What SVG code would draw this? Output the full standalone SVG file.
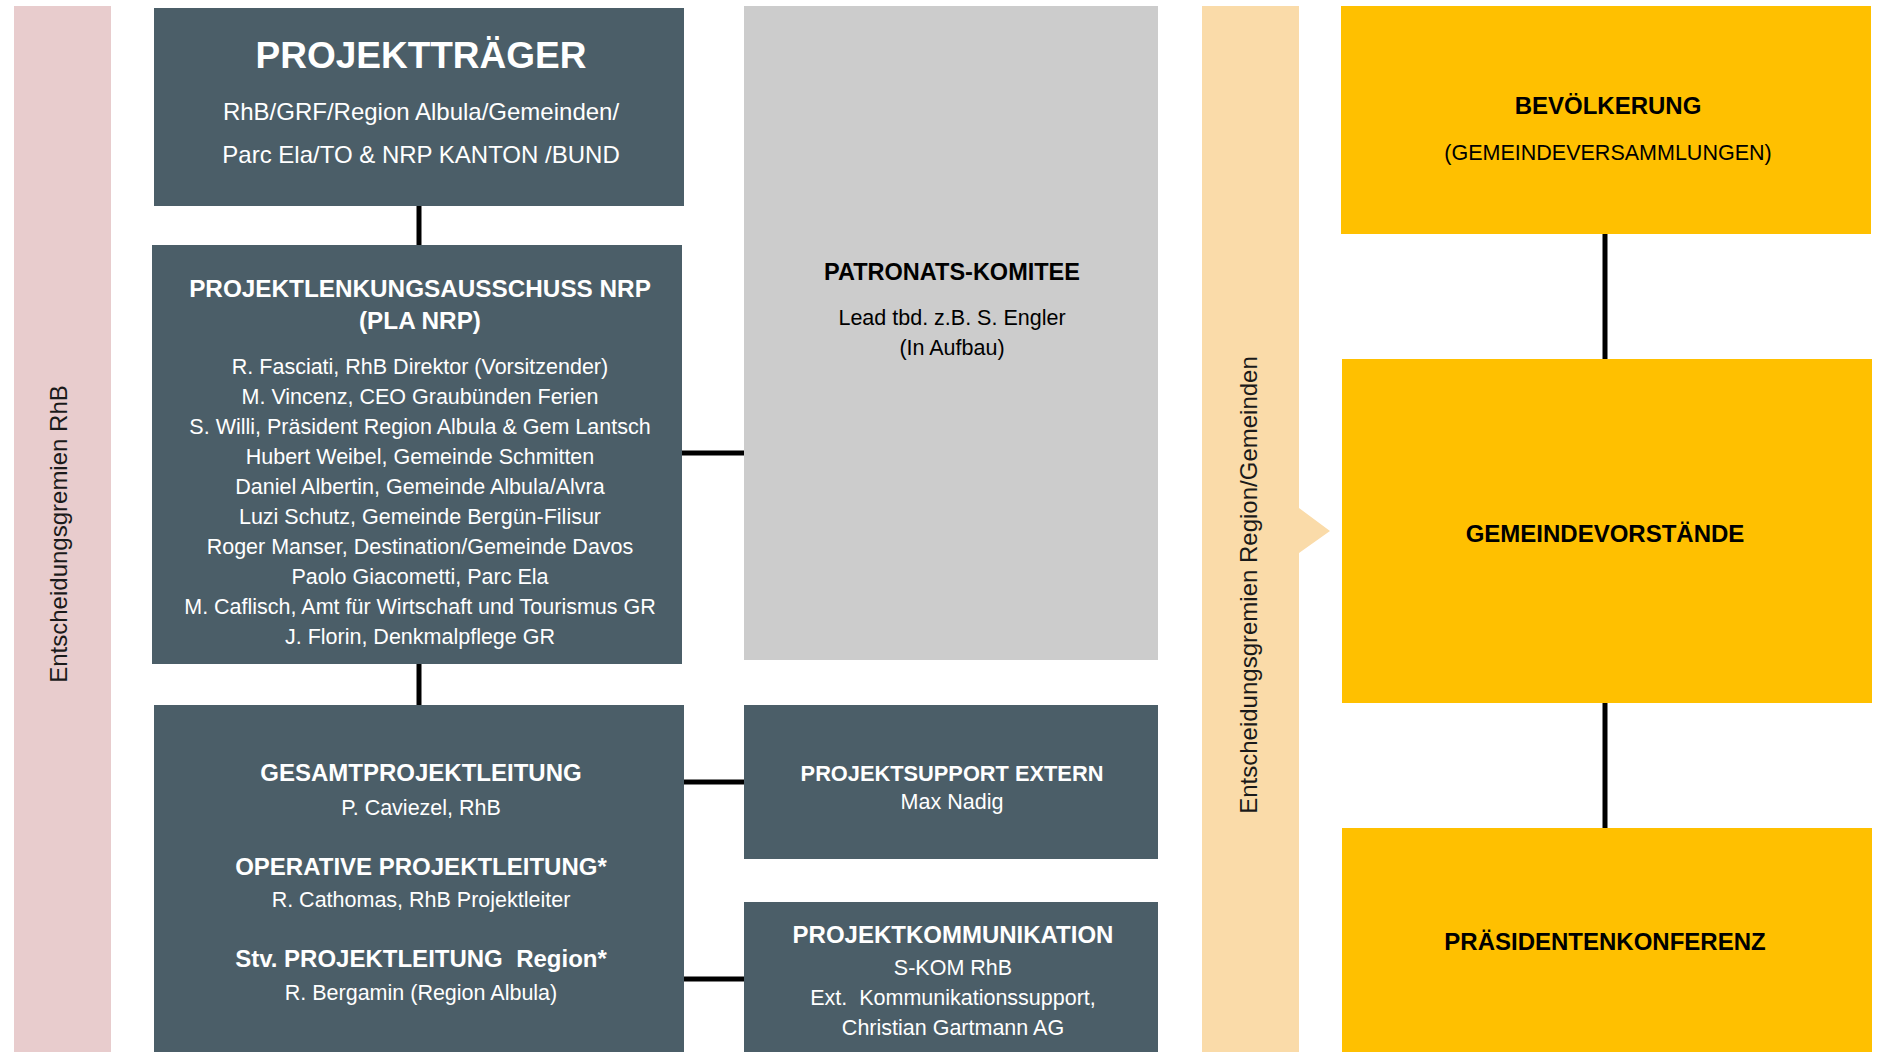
<svg xmlns="http://www.w3.org/2000/svg" width="1881" height="1052" viewBox="0 0 1881 1052">
<style>
.slate{fill:#4B5E68}
.grey{fill:#CCCCCC}
.yel{fill:#FFC000}
.t{font-family:"Liberation Sans",Arial,sans-serif;text-anchor:middle}
.w{fill:#FFFFFF}
.k{fill:#000000}
.b{font-weight:bold}
.r{font-size:21.5px}
.h{font-size:24px}
.side{font-family:"Liberation Sans",Arial,sans-serif;font-size:24px;fill:#1A1A1A;text-anchor:middle}
.pre{white-space:pre}
.conn line{stroke:#000000;stroke-width:5}
</style>

<g id="band-rhb">
<rect x="14" y="6" width="97" height="1046" fill="#E8CCCD"/>
<text class="side" transform="translate(67,534) rotate(-90)">Entscheidungsgremien RhB</text>
</g>

<g id="band-region">
<polygon points="1202,6 1299,6 1299,508 1330,531 1299,553 1299,1052 1202,1052" fill="#FADBA9"/>
<text class="side" transform="translate(1257,585) rotate(-90)">Entscheidungsgremien Region/Gemeinden</text>
</g>

<g class="conn" id="connectors">
<line x1="419" y1="206" x2="419" y2="246"/>
<line x1="681" y1="453" x2="745" y2="453"/>
<line x1="419" y1="663" x2="419" y2="706"/>
<line x1="683" y1="782" x2="745" y2="782"/>
<line x1="683" y1="979" x2="745" y2="979"/>
<line x1="1605" y1="233" x2="1605" y2="360"/>
<line x1="1605" y1="702" x2="1605" y2="829"/>
</g>

<g id="projekttraeger">
<rect class="slate" x="154" y="8" width="530" height="198"/>
<text class="t w b" x="421" y="68" font-size="37">PROJEKTTRÄGER</text>
<text class="t w h" x="421" y="120">RhB/GRF/Region Albula/Gemeinden/</text>
<text class="t w h" x="421" y="163">Parc Ela/TO &amp; NRP KANTON /BUND</text>
</g>

<g id="pla">
<rect class="slate" x="152" y="245" width="530" height="419"/>
<text class="t w b" x="420" y="297" font-size="24.3">PROJEKTLENKUNGSAUSSCHUSS NRP</text>
<text class="t w b" x="420" y="329" font-size="24.3">(PLA NRP)</text>
<text class="t w r" x="420" y="374">R. Fasciati, RhB Direktor (Vorsitzender)</text>
<text class="t w r" x="420" y="404">M. Vincenz, CEO Graubünden Ferien</text>
<text class="t w r" x="420" y="434">S. Willi, Präsident Region Albula &amp; Gem Lantsch</text>
<text class="t w r" x="420" y="464">Hubert Weibel, Gemeinde Schmitten</text>
<text class="t w r" x="420" y="494">Daniel Albertin, Gemeinde Albula/Alvra</text>
<text class="t w r" x="420" y="524">Luzi Schutz, Gemeinde Bergün-Filisur</text>
<text class="t w r" x="420" y="554">Roger Manser, Destination/Gemeinde Davos</text>
<text class="t w r" x="420" y="584">Paolo Giacometti, Parc Ela</text>
<text class="t w r" x="420" y="614">M. Caflisch, Amt für Wirtschaft und Tourismus GR</text>
<text class="t w r" x="420" y="644">J. Florin, Denkmalpflege GR</text>
</g>

<g id="patronat">
<rect class="grey" x="744" y="6" width="414" height="654"/>
<text class="t k b" x="952" y="280" font-size="23.5">PATRONATS-KOMITEE</text>
<text class="t k r" x="952" y="325">Lead tbd. z.B. S. Engler</text>
<text class="t k r" x="952" y="355">(In Aufbau)</text>
</g>

<g id="gesamtprojektleitung">
<rect class="slate" x="154" y="705" width="530" height="347"/>
<text class="t w b h" x="421" y="781">GESAMTPROJEKTLEITUNG</text>
<text class="t w r" x="421" y="815">P. Caviezel, RhB</text>
<text class="t w b h" x="421" y="875">OPERATIVE PROJEKTLEITUNG*</text>
<text class="t w r" x="421" y="907">R. Cathomas, RhB Projektleiter</text>
<text class="t w b h pre" x="421" y="967">Stv. PROJEKTLEITUNG  Region*</text>
<text class="t w r" x="421" y="1000">R. Bergamin (Region Albula)</text>
</g>

<g id="projektsupport">
<rect class="slate" x="744" y="705" width="414" height="154"/>
<text class="t w b" x="952" y="781" font-size="21.8">PROJEKTSUPPORT EXTERN</text>
<text class="t w r" x="952" y="809">Max Nadig</text>
</g>

<g id="projektkommunikation">
<rect class="slate" x="744" y="902" width="414" height="150"/>
<text class="t w b h" x="953" y="943">PROJEKTKOMMUNIKATION</text>
<text class="t w r" x="953" y="975">S-KOM RhB</text>
<text class="t w r pre" x="953" y="1005">Ext.  Kommunikationssupport,</text>
<text class="t w r" x="953" y="1035">Christian Gartmann AG</text>
</g>

<g id="bevoelkerung">
<rect class="yel" x="1341" y="6" width="530" height="228"/>
<text class="t k b h" x="1608" y="114">BEVÖLKERUNG</text>
<text class="t k r" x="1608" y="160">(GEMEINDEVERSAMMLUNGEN)</text>
</g>

<g id="gemeindevorstaende">
<rect class="yel" x="1342" y="359" width="530" height="344"/>
<text class="t k b h" x="1605" y="542">GEMEINDEVORSTÄNDE</text>
</g>

<g id="praesidentenkonferenz">
<rect class="yel" x="1342" y="828" width="530" height="224"/>
<text class="t k b h" x="1605" y="950">PRÄSIDENTENKONFERENZ</text>
</g>
</svg>
